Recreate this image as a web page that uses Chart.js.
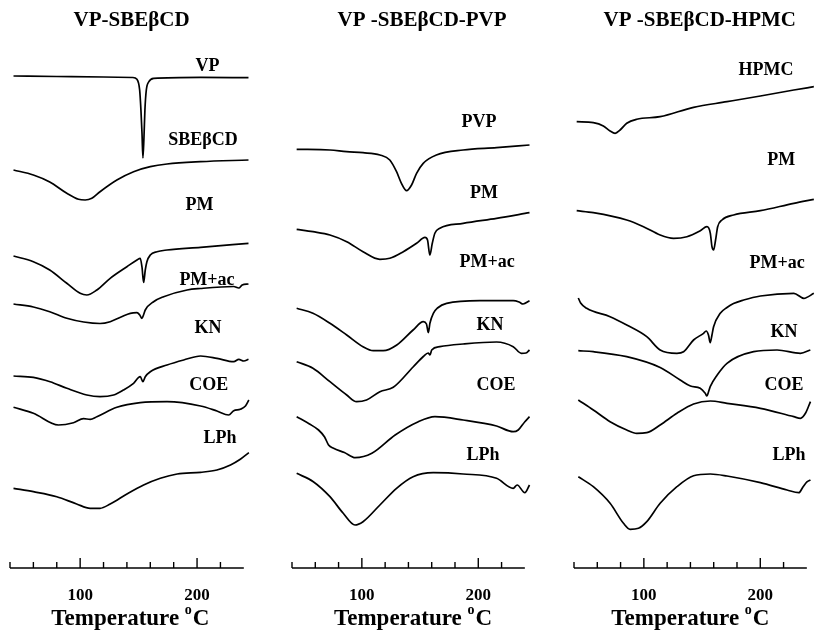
<!DOCTYPE html>
<html>
<head>
<meta charset="utf-8">
<script src="https://cdn.jsdelivr.net/npm/chart.js@4.4.0/dist/chart.umd.min.js"></script>
<style>
  body { margin: 0; background: #fff; }
  #wrap { position: relative; width: 815px; height: 632px; }
  canvas { position: absolute; top: 0; }
</style>
</head>
<body>
<div id="wrap">
  <canvas id="panel1" width="272" height="632" style="left:0"></canvas>
  <canvas id="panel2" width="272" height="632" style="left:272px"></canvas>
  <canvas id="panel3" width="271" height="632" style="left:544px"></canvas>
</div>
<script>
// DSC thermograms, [temperature °C, heat flow (offset, a.u.)]

// --- VP-SBEβCD
const p1Names = ['VP', 'SBEβCD', 'PM', 'PM+ac', 'KN', 'COE', 'LPh'];
const p1VP = [[43,491],[80,490.5],[120,490],[145,489.5],[148.6,487.7],[150.9,477],[152,457],[152.9,434],[153.7,409],[154.6,430],[155.4,457],[156.6,477],[158.6,485],[162.9,488.7],[203,489.7],[244,489.3]];
const p1SBE = [[43,397],[60,392],[74,385],[88.6,373.7],[98.6,367.7],[104.3,367],[110,368.7],[117,375.3],[131.4,387],[145.7,395.3],[160,400.3],[174.3,403],[203,405.3],[244,407]];
const p1PM = [[43,311],[60,305.3],[74,297],[88.6,283.7],[100,273.7],[105.7,272],[114.3,277],[125.7,288.7],[140,300.3],[148.6,307],[151.4,308.7],[152.9,300],[154.3,284.5],[155.7,297],[157.1,305.3],[160,312],[165.7,315.3],[174.3,317],[203,319.7],[244,323.7]];
const p1PMac = [[43,263],[60,260],[74,255.3],[88.6,248.7],[103,245],[117,243.5],[125.7,245.3],[135,250],[142.9,253.7],[148.6,254.3],[151,252],[152.9,248.7],[154.5,253],[155.7,257],[162.8,265.3],[171.4,270.3],[191.5,277],[203,278.5],[231.4,280.5],[235.7,279],[238.6,282],[244,283]];
const p1KN = [[43,191],[60,189.7],[74.3,185.3],[88.6,178.7],[105.7,172],[117,170.3],[128.6,172],[137,177],[145.7,183.7],[151.4,190.3],[153.7,185.3],[155.7,190.3],[160,195.3],[174.3,202],[188.6,207],[203,211],[217,208.7],[231.4,205.3],[235.7,207.7],[240,206],[244,207.7]];
const p1COE = [[43,159.7],[60,153.7],[81.4,142],[94.3,144.3],[102.9,148.3],[108.6,147.7],[114.3,150.3],[131.4,159.7],[151.4,164.3],[174.3,165.3],[203,161],[217,156],[227,152],[231.4,156.3],[237,157.7],[241.4,161],[244.3,167]];
const p1LPh = [[43,78.7],[60,75.3],[80,70.3],[97,63],[108.6,58.7],[117,58.7],[125.7,63],[140,73],[154.3,82],[168.6,88.7],[183,93],[203,94.7],[217,97],[228.6,102],[237,107.7],[244.3,114.3]];

// --- VP-SBEβCD-PVP
const p2Names = ['PVP', 'PM', 'PM+ac', 'KN', 'COE', 'LPh'];
const p2PVP = [[44,417.7],[72.6,417],[86.9,415.3],[101,414.3],[115.5,412],[124,407],[129.8,395.3],[134,383.7],[138.4,376.3],[142.7,382],[147,393.7],[152.7,403.7],[164,412],[187,417],[215.7,419.3],[244,422]];
const p2PM = [[44,337.7],[58,335.3],[72.6,332],[87,325.3],[101,315.3],[115.5,307.7],[124,308.7],[135.6,315.3],[147,323.7],[154.2,329.7],[156.4,327],[158.4,312],[160.5,323.7],[162.7,333.7],[167,338.7],[187,343.7],[215.7,348.7],[244,354.3]];
const p2PMac = [[44,258.7],[58,253.7],[72.6,243.7],[87,232],[101,220.3],[109.8,216.3],[118.4,216.3],[130,222],[144,237],[152.8,245.3],[155.5,243],[157.1,234.3],[158.5,244],[161.4,253.7],[165,259],[172.8,263.7],[201.4,266.3],[230,266.3],[235,265],[238.5,263],[244,266.3]];
const p2KN = [[44,205.3],[58,198.7],[72.6,185.3],[87,172],[95.5,165.3],[104,167],[115.5,175.3],[127,179.7],[144,200],[152.8,210.5],[157,214],[158.5,212],[160,217],[167,220.3],[187,223],[215.7,225],[230,220.3],[237,213.7],[241,214],[244,217]];
const p2COE = [[44,150.3],[55,143],[62.8,137],[68,130],[71.4,122],[75.7,118.7],[85,114.5],[94.3,109.3],[108.6,113.7],[128.6,132],[148.5,145.3],[162.8,150.3],[187,147],[215.7,141],[230,135.3],[234.3,137],[240,145.3],[244,150.3]];
const p2LPh = [[44,93.7],[58.3,85.3],[72.6,70.3],[84,53.7],[94.1,42],[101,45.3],[115.5,62],[129.8,78.7],[144,90.3],[161.3,94.3],[187,93],[215.7,88.7],[230,78.7],[233.4,82],[240,74.3],[244,82]];

// --- VP-SBEβCD-HPMC
const p3Names = ['HPMC', 'PM', 'PM+ac', 'KN', 'COE', 'LPh'];
const p3HPMC = [[42.3,445.3],[56.6,444.3],[65.2,441],[71,436],[75.3,433.7],[79.6,437],[85.3,443.7],[93.9,447.7],[114,450.3],[142.7,459.7],[171.4,465.3],[200.1,471],[228.8,477],[246,480.3]];
const p3PM = [[42.3,356.3],[56.6,354.3],[85.3,347],[99.7,340.3],[114,332],[125.5,328.7],[137,330.3],[148.5,336.3],[154.2,340.3],[157.1,333.7],[158.5,320.3],[159.9,317],[161.6,327],[163.4,340.3],[167.1,347],[177.1,352],[200.1,356.3],[228.8,363.7],[246,367.7]];
const p3PMac = [[43.7,269],[45.7,264],[50.9,258.7],[71,250.3],[85.3,242],[102.5,230.3],[114,217],[128.4,213.7],[134.1,215.3],[142.7,227],[151.3,233.7],[153.5,236],[155.5,232],[157,224.3],[158.5,232],[159.9,240.3],[165.6,253.7],[171.4,259.5],[177,263.5],[185.7,267],[200.1,271],[228.8,273.7],[237.4,268.7],[246,273.7]];
const p3KN = [[43.7,216.3],[56.6,215.3],[85.3,210.3],[114,199.5],[131.2,187],[140,181],[148.4,178.7],[152.7,173.7],[154.2,171],[155.5,175],[157,180.3],[163,192],[171.4,203.7],[194.3,215.3],[214.4,217],[234.5,213.7],[243,217]];
const p3COE = [[43.7,167],[56.6,157],[71,145.3],[85.3,137],[93.9,133.7],[102.5,134.3],[114,142],[128.4,153.7],[142.7,163],[157.1,166],[171.4,163.7],[200.1,158.7],[228.8,150.3],[234.5,148.7],[238.8,153.7],[243.1,165.3]];
const p3LPh = [[43.7,90.3],[56.6,80.3],[71,63.7],[82.5,43.7],[88.2,37.7],[95.4,38.7],[102.5,45.3],[114,63.7],[128.4,80.3],[142.7,91.3],[157.1,93],[171.4,91],[200.1,84.3],[223,77],[233.1,74.3],[236.8,80.3],[240.3,85.3],[243.1,87]];

const tempTicks = [100, 200];

const FONT = '"Liberation Serif", "Times New Roman", serif';

// titles, curve labels and the temperature axis drawn with the chart's own scales
const decor = {
  id: 'decor',
  afterDraw(chart, args, opts) {
    const { ctx, chartArea, scales: { x, y } } = chart;
    ctx.save();
    ctx.fillStyle = '#000';
    ctx.strokeStyle = '#000';

    ctx.font = 'bold 21px ' + FONT;
    ctx.textAlign = 'center';
    ctx.textBaseline = 'middle';
    ctx.fillText(opts.title, x.getPixelForValue(opts.titleAt), 21);

    ctx.font = 'bold 18px ' + FONT;
    opts.names.forEach((name, i) => {
      const at = opts.labelAt[i];
      ctx.fillText(name, x.getPixelForValue(at[0]), y.getPixelForValue(at[1]));
    });

    // axis line with ticks pointing up
    const base = chartArea.bottom + 1;
    ctx.lineWidth = 1.7;
    ctx.beginPath();
    ctx.moveTo(x.getPixelForValue(40), base);
    ctx.lineTo(x.getPixelForValue(240), base);
    ctx.stroke();
    ctx.lineWidth = 1.4;
    x.ticks.forEach(t => {
      if (t.value > 240) return;
      const px = x.getPixelForValue(t.value);
      const len = tempTicks.includes(t.value) ? 10 : 6;
      ctx.beginPath();
      ctx.moveTo(px, base);
      ctx.lineTo(px, base - len);
      ctx.stroke();
    });

    ctx.font = 'bold 17px ' + FONT;
    tempTicks.forEach(v => ctx.fillText(String(v), x.getPixelForValue(v), 596));

    // "Temperature °C" with a raised o
    const big = 'bold 23px ' + FONT, small = 'bold 14px ' + FONT;
    ctx.font = big;
    const wa = ctx.measureText('Temperature ').width;
    const wc = ctx.measureText('C').width;
    ctx.font = small;
    const wo = ctx.measureText('o').width + 1;
    let sx = x.getPixelForValue(opts.axisTitleAt) - (wa + wo + wc) / 2;
    ctx.textAlign = 'left';
    ctx.textBaseline = 'alphabetic';
    ctx.font = big;
    ctx.fillText('Temperature ', sx, 625);
    ctx.font = small;
    ctx.fillText('o', sx + wa, 614);
    ctx.font = big;
    ctx.fillText('C', sx + wa + wo, 625);
    ctx.restore();
  }
};

function makePanel(id, series, padding, decorOpts) {
  return new Chart(document.getElementById(id), {
    type: 'line',
    data: {
      datasets: series.map(s => ({
        data: s.map(p => ({ x: p[0], y: p[1] })),
        borderColor: '#000',
        borderWidth: 1.7,
        pointRadius: 0,
        fill: false,
        cubicInterpolationMode: 'monotone'
      }))
    },
    options: {
      responsive: false,
      animation: false,
      layout: { padding },
      plugins: {
        legend: { display: false },
        tooltip: { enabled: false },
        decor: decorOpts
      },
      scales: {
        x: { type: 'linear', min: 40, max: 247, display: false, ticks: { stepSize: 20 } },
        y: { min: 0, max: 537, display: false }
      }
    },
    plugins: [decor]
  });
}

makePanel('panel1', [p1VP, p1SBE, p1PM, p1PMac, p1KN, p1COE, p1LPh],
  { left: 10, right: 20, top: 30, bottom: 65 },
  { title: 'VP-SBEβCD', titleAt: 144, axisTitleAt: 143, names: p1Names,
    labelAt: [[209,501],[205,427],[202,362],[208.5,287],[209.4,239],[210,182],[219.6,129]] });

makePanel('panel2', [p2PVP, p2PM, p2PMac, p2KN, p2COE, p2LPh],
  { left: 20, right: 11, top: 30, bottom: 65 },
  { title: 'VP -SBEβCD-PVP', titleAt: 151.7, axisTitleAt: 144, names: p2Names,
    labelAt: [[200.7,445],[205,374],[207.5,305],[210,242],[215.3,182],[204,112]] });

makePanel('panel3', [p3HPMC, p3PM, p3PMac, p3KN, p3COE, p3LPh],
  { left: 30, right: 0, top: 30, bottom: 65 },
  { title: 'VP -SBEβCD-HPMC', titleAt: 148, axisTitleAt: 140, names: p3Names,
    labelAt: [[205,497],[218,407],[214.4,304],[220.4,235],[220.4,182],[224.7,112]] });
</script>
</body>
</html>
